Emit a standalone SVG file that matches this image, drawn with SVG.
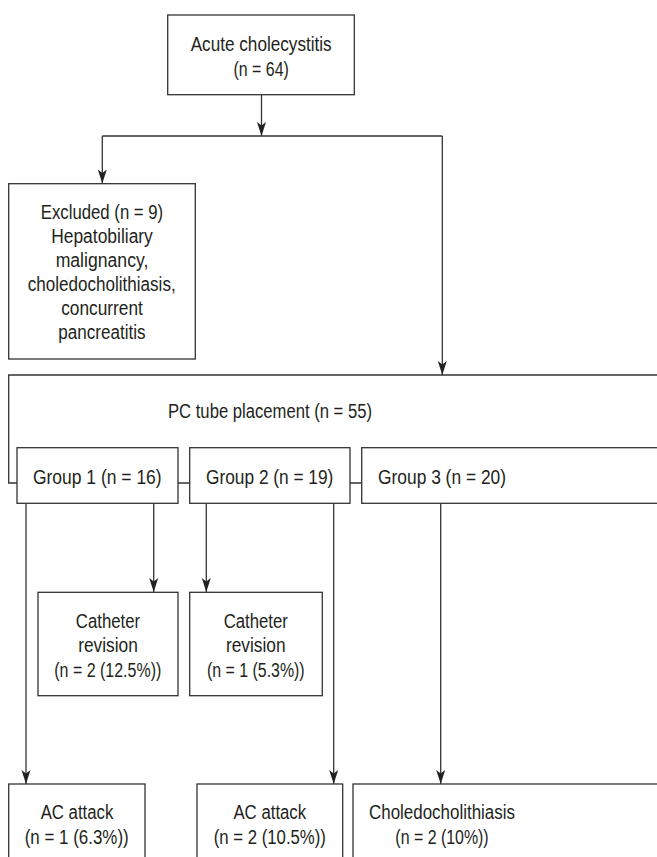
<svg xmlns="http://www.w3.org/2000/svg" width="657" height="857" viewBox="0 0 657 857">
<style>
.box{fill:#fff;stroke:#333;stroke-width:1.3}
.ln{fill:none;stroke:#333;stroke-width:1.3}
text{font-family:"Liberation Sans",Arial,sans-serif;font-size:20px;fill:#231f20;text-anchor:middle}
</style>
<defs>
<marker id="ah" markerUnits="userSpaceOnUse" markerWidth="14" markerHeight="10" refX="14" refY="5" orient="auto" viewBox="0 0 14 10">
<path d="M0,0.5 L14,5 L0,9.5 L3.5,5 z" fill="#222"/>
</marker>
</defs>
<rect width="657" height="857" fill="#fff"/>
<g id="pc-placement">
<path class="box" d="M670,375 H8.7 V483 H670"/>
<text x="270" y="418" textLength="204" lengthAdjust="spacingAndGlyphs">PC tube placement (n = 55)</text>
</g>
<g id="connectors">
<path class="ln" d="M261.5,95 V136" marker-end="url(#ah)"/>
<path class="ln" d="M102.3,136 H442.3"/>
<path class="ln" d="M102.3,136 V183.5" marker-end="url(#ah)"/>
<path class="ln" d="M442.3,136 V375" marker-end="url(#ah)"/>
<path class="ln" d="M26,503 V784" marker-end="url(#ah)"/>
<path class="ln" d="M153.7,503 V592" marker-end="url(#ah)"/>
<path class="ln" d="M206.3,503 V592" marker-end="url(#ah)"/>
<path class="ln" d="M333.7,503 V784" marker-end="url(#ah)"/>
<path class="ln" d="M440.7,503 V784" marker-end="url(#ah)"/>
</g>
<g id="acute">
<rect class="box" x="167.7" y="15" width="186.6" height="79.7"/>
<text x="261.2" y="51" textLength="141" lengthAdjust="spacingAndGlyphs">Acute cholecystitis</text>
<text x="261.2" y="76" textLength="55.3" lengthAdjust="spacingAndGlyphs">(n = 64)</text>
</g>
<g id="excluded">
<rect class="box" x="8.7" y="183.7" width="186.6" height="175.3"/>
<text x="102" y="219.3" textLength="122.3" lengthAdjust="spacingAndGlyphs">Excluded (n = 9)</text>
<text x="102" y="243.3" textLength="101.7" lengthAdjust="spacingAndGlyphs">Hepatobiliary</text>
<text x="102" y="267.3" textLength="92.7" lengthAdjust="spacingAndGlyphs">malignancy,</text>
<text x="101.7" y="291.3" textLength="148" lengthAdjust="spacingAndGlyphs">choledocholithiasis,</text>
<text x="102" y="315.3" textLength="81.7" lengthAdjust="spacingAndGlyphs">concurrent</text>
<text x="102" y="339.3" textLength="87.3" lengthAdjust="spacingAndGlyphs">pancreatitis</text>
</g>
<g id="group1">
<rect class="box" x="17" y="447.7" width="161" height="55.6"/>
<text x="97.3" y="484" textLength="128.7" lengthAdjust="spacingAndGlyphs">Group 1 (n = 16)</text>
</g>
<g id="group2">
<rect class="box" x="189.7" y="447.7" width="160.3" height="55.6"/>
<text x="269.7" y="484" textLength="127.3" lengthAdjust="spacingAndGlyphs">Group 2 (n = 19)</text>
</g>
<g id="group3">
<rect class="box" x="361.7" y="447.7" width="310" height="55.6"/>
<text x="442" y="484" textLength="128" lengthAdjust="spacingAndGlyphs">Group 3 (n = 20)</text>
</g>
<g id="catheter1">
<rect class="box" x="38" y="592.3" width="140" height="103.4"/>
<text x="108" y="628.3" textLength="64.3" lengthAdjust="spacingAndGlyphs">Catheter</text>
<text x="108" y="652.3" textLength="59.7" lengthAdjust="spacingAndGlyphs">revision</text>
<text x="107.8" y="676.7" textLength="107" lengthAdjust="spacingAndGlyphs">(n = 2 (12.5%))</text>
</g>
<g id="catheter2">
<rect class="box" x="189.7" y="592.3" width="132.6" height="103.4"/>
<text x="255.8" y="628.3" textLength="64.3" lengthAdjust="spacingAndGlyphs">Catheter</text>
<text x="255.8" y="652.3" textLength="59.7" lengthAdjust="spacingAndGlyphs">revision</text>
<text x="255.8" y="676.7" textLength="97.7" lengthAdjust="spacingAndGlyphs">(n = 1 (5.3%))</text>
</g>
<g id="ac1">
<rect class="box" x="8.7" y="784" width="136.3" height="90"/>
<text x="77" y="819.3" textLength="72.7" lengthAdjust="spacingAndGlyphs">AC attack</text>
<text x="76.7" y="844" textLength="104" lengthAdjust="spacingAndGlyphs">(n = 1 (6.3%))</text>
</g>
<g id="ac2">
<rect class="box" x="197" y="784" width="145.7" height="90"/>
<text x="269.8" y="819.3" textLength="72.7" lengthAdjust="spacingAndGlyphs">AC attack</text>
<text x="269.8" y="844" textLength="112.3" lengthAdjust="spacingAndGlyphs">(n = 2 (10.5%))</text>
</g>
<g id="choledo">
<rect class="box" x="353" y="784" width="320" height="90"/>
<text x="442" y="819.3" textLength="146" lengthAdjust="spacingAndGlyphs">Choledocholithiasis</text>
<text x="442" y="844" textLength="93.3" lengthAdjust="spacingAndGlyphs">(n = 2 (10%))</text>
</g>
</svg>
